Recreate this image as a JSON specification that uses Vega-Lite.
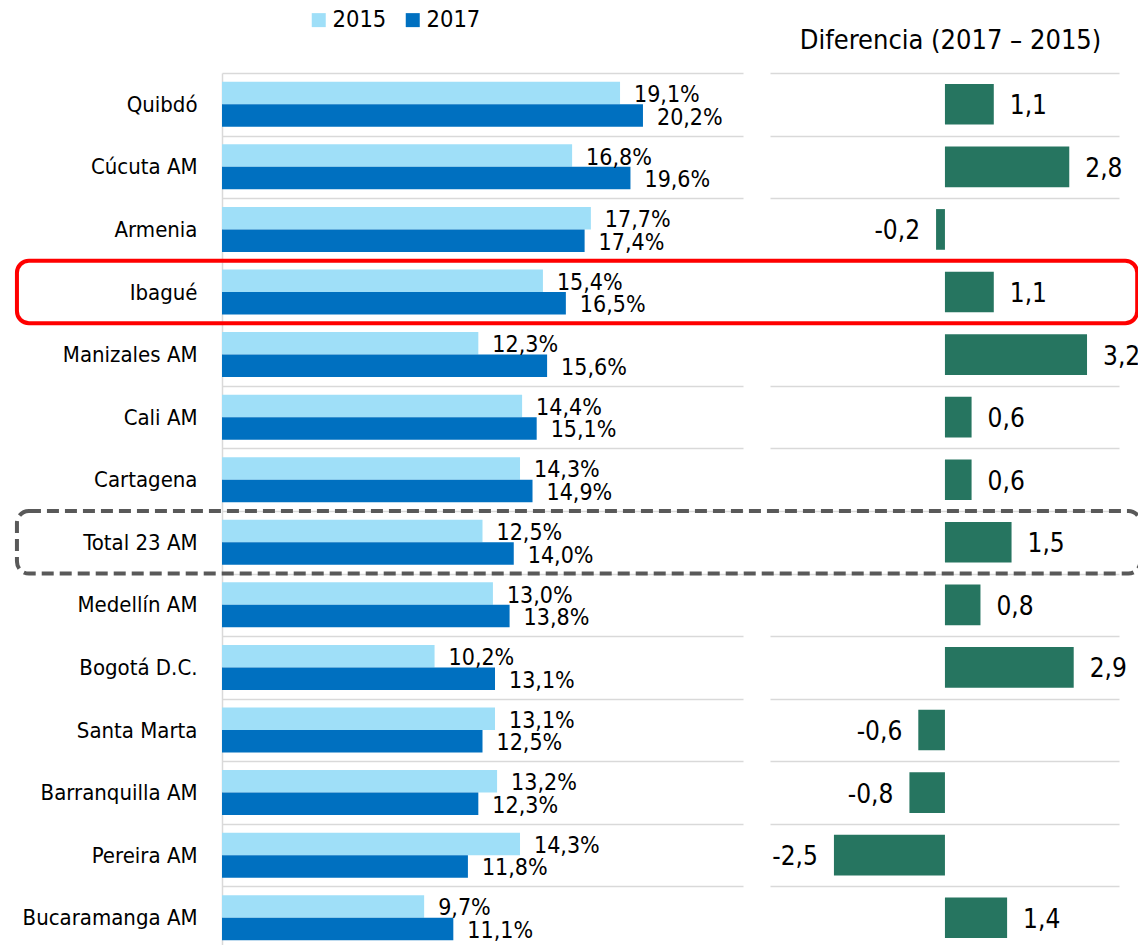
{
  "$schema": "https://vega.github.io/schema/vega-lite/v6.json",
  "padding": {"left": 14, "top": 8, "right": 0, "bottom": 0},
  "bounds": "flush",
  "spacing": 27,
  "config": {
    "view": {"stroke": null},
    "font": "'Liberation Sans Narrow', 'DejaVu Sans Condensed', sans-serif",
    "locale": {
      "number": {"decimal": ",", "thousands": ".", "grouping": [3], "currency": ["$", ""], "minus": "-"}
    }
  },
  "datasets": {
    "bars": [
      {"city": "Quibdó", "year": "2015", "pct": 0.191},
      {"city": "Quibdó", "year": "2017", "pct": 0.202},
      {"city": "Cúcuta AM", "year": "2015", "pct": 0.168},
      {"city": "Cúcuta AM", "year": "2017", "pct": 0.196},
      {"city": "Armenia", "year": "2015", "pct": 0.177},
      {"city": "Armenia", "year": "2017", "pct": 0.174},
      {"city": "Ibagué", "year": "2015", "pct": 0.154},
      {"city": "Ibagué", "year": "2017", "pct": 0.165},
      {"city": "Manizales AM", "year": "2015", "pct": 0.123},
      {"city": "Manizales AM", "year": "2017", "pct": 0.156},
      {"city": "Cali AM", "year": "2015", "pct": 0.144},
      {"city": "Cali AM", "year": "2017", "pct": 0.151},
      {"city": "Cartagena", "year": "2015", "pct": 0.143},
      {"city": "Cartagena", "year": "2017", "pct": 0.149},
      {"city": "Total 23 AM", "year": "2015", "pct": 0.125},
      {"city": "Total 23 AM", "year": "2017", "pct": 0.140},
      {"city": "Medellín AM", "year": "2015", "pct": 0.130},
      {"city": "Medellín AM", "year": "2017", "pct": 0.138},
      {"city": "Bogotá D.C.", "year": "2015", "pct": 0.102},
      {"city": "Bogotá D.C.", "year": "2017", "pct": 0.131},
      {"city": "Santa Marta", "year": "2015", "pct": 0.131},
      {"city": "Santa Marta", "year": "2017", "pct": 0.125},
      {"city": "Barranquilla AM", "year": "2015", "pct": 0.132},
      {"city": "Barranquilla AM", "year": "2017", "pct": 0.123},
      {"city": "Pereira AM", "year": "2015", "pct": 0.143},
      {"city": "Pereira AM", "year": "2017", "pct": 0.118},
      {"city": "Bucaramanga AM", "year": "2015", "pct": 0.097},
      {"city": "Bucaramanga AM", "year": "2017", "pct": 0.111}
    ],
    "diff": [
      {"city": "Quibdó", "diff": 1.1},
      {"city": "Cúcuta AM", "diff": 2.8},
      {"city": "Armenia", "diff": -0.2},
      {"city": "Ibagué", "diff": 1.1},
      {"city": "Manizales AM", "diff": 3.2},
      {"city": "Cali AM", "diff": 0.6},
      {"city": "Cartagena", "diff": 0.6},
      {"city": "Total 23 AM", "diff": 1.5},
      {"city": "Medellín AM", "diff": 0.8},
      {"city": "Bogotá D.C.", "diff": 2.9},
      {"city": "Santa Marta", "diff": -0.6},
      {"city": "Barranquilla AM", "diff": -0.8},
      {"city": "Pereira AM", "diff": -2.5},
      {"city": "Bucaramanga AM", "diff": 1.4}
    ]
  },
  "hconcat": [
    {
      "width": 521,
      "height": 876,
      "data": {"name": "bars"},
      "encoding": {
        "y": {
          "field": "city", "type": "nominal", "sort": null,
          "scale": {"paddingInner": 0, "paddingOuter": 0},
          "axis": {
            "title": null, "ticks": false, "tickSize": 0, "labelPadding": 25,
            "labelFontSize": 22, "labelColor": "#000000", "labelLimit": 0,
            "domain": true, "domainColor": "#d9d9d9", "domainWidth": 1.5,
            "grid": true, "gridColor": "#d9d9d9", "gridWidth": 1.5, "tickBand": "extent"
          }
        },
        "x": {"field": "pct", "type": "quantitative", "scale": {"domain": [0, 0.25], "nice": false}, "axis": null},
        "yOffset": {"field": "year", "type": "nominal", "scale": {"paddingOuter": 0.39, "paddingInner": 0}}
      },
      "layer": [
        {
          "mark": {"type": "bar"},
          "encoding": {
            "color": {
              "field": "year", "type": "nominal",
              "scale": {"domain": ["2015", "2017"], "range": ["#9fdff8", "#0070c0"]},
              "legend": {
                "title": null, "orient": "none", "direction": "horizontal",
                "legendX": 85, "legendY": -65,
                "symbolType": "square", "symbolSize": 196, "symbolStrokeWidth": 0,
                "labelFontSize": 23.5, "labelColor": "#000000", "labelOffset": 2,
                "columnPadding": 14
              }
            }
          }
        },
        {
          "mark": {"type": "text", "align": "left", "baseline": "middle", "dx": 14, "dy": 2, "fontSize": 23, "color": "#000000"},
          "encoding": {"text": {"field": "pct", "type": "quantitative", "format": ".1%"}}
        }
      ]
    },
    {
      "width": 349,
      "height": 876,
      "data": {"name": "diff"},
      "title": {"text": "Diferencia (2017 – 2015)", "fontSize": 27, "fontWeight": "normal", "color": "#000000", "anchor": "middle", "offset": 18, "dx": 6},
      "encoding": {
        "y": {
          "field": "city", "type": "nominal", "sort": null,
          "scale": {"paddingInner": 0, "paddingOuter": 0},
          "axis": {
            "title": null, "labels": false, "ticks": false, "domain": false,
            "grid": true, "gridColor": "#d9d9d9", "gridWidth": 1.5, "tickBand": "extent"
          }
        }
      },
      "layer": [
        {
          "mark": {"type": "bar", "height": {"band": 0.65}, "color": "#267560"},
          "encoding": {"x": {"field": "diff", "type": "quantitative", "scale": {"domain": [-3.94, 3.92], "nice": false}, "axis": null}}
        },
        {
          "transform": [{"filter": "datum.diff >= 0"}],
          "mark": {"type": "text", "align": "left", "baseline": "middle", "dx": 16, "dy": 2, "fontSize": 26, "color": "#000000"},
          "encoding": {
            "x": {"field": "diff", "type": "quantitative"},
            "text": {"field": "diff", "type": "quantitative", "format": ".1f"}
          }
        },
        {
          "transform": [{"filter": "datum.diff < 0"}],
          "mark": {"type": "text", "align": "right", "baseline": "middle", "dx": -16, "dy": 2, "fontSize": 26, "color": "#000000"},
          "encoding": {
            "x": {"field": "diff", "type": "quantitative"},
            "text": {"field": "diff", "type": "quantitative", "format": ".1f"}
          }
        },
        {
          "transform": [{"filter": "datum.city == 'Ibagué'"}],
          "mark": {"type": "rect", "fill": null, "fillOpacity": 0, "stroke": "#ff0000", "strokeWidth": 4, "cornerRadius": 12},
          "encoding": {"x": {"datum": -20.9, "type": "quantitative"}, "x2": {"datum": 4.33}}
        },
        {
          "transform": [{"filter": "datum.city == 'Total 23 AM'"}],
          "mark": {"type": "rect", "fill": null, "fillOpacity": 0, "stroke": "#595959", "strokeWidth": 4, "strokeDash": [12, 6], "cornerRadius": 12},
          "encoding": {"x": {"datum": -20.9, "type": "quantitative"}, "x2": {"datum": 4.4}}
        }
      ]
    }
  ]
}
